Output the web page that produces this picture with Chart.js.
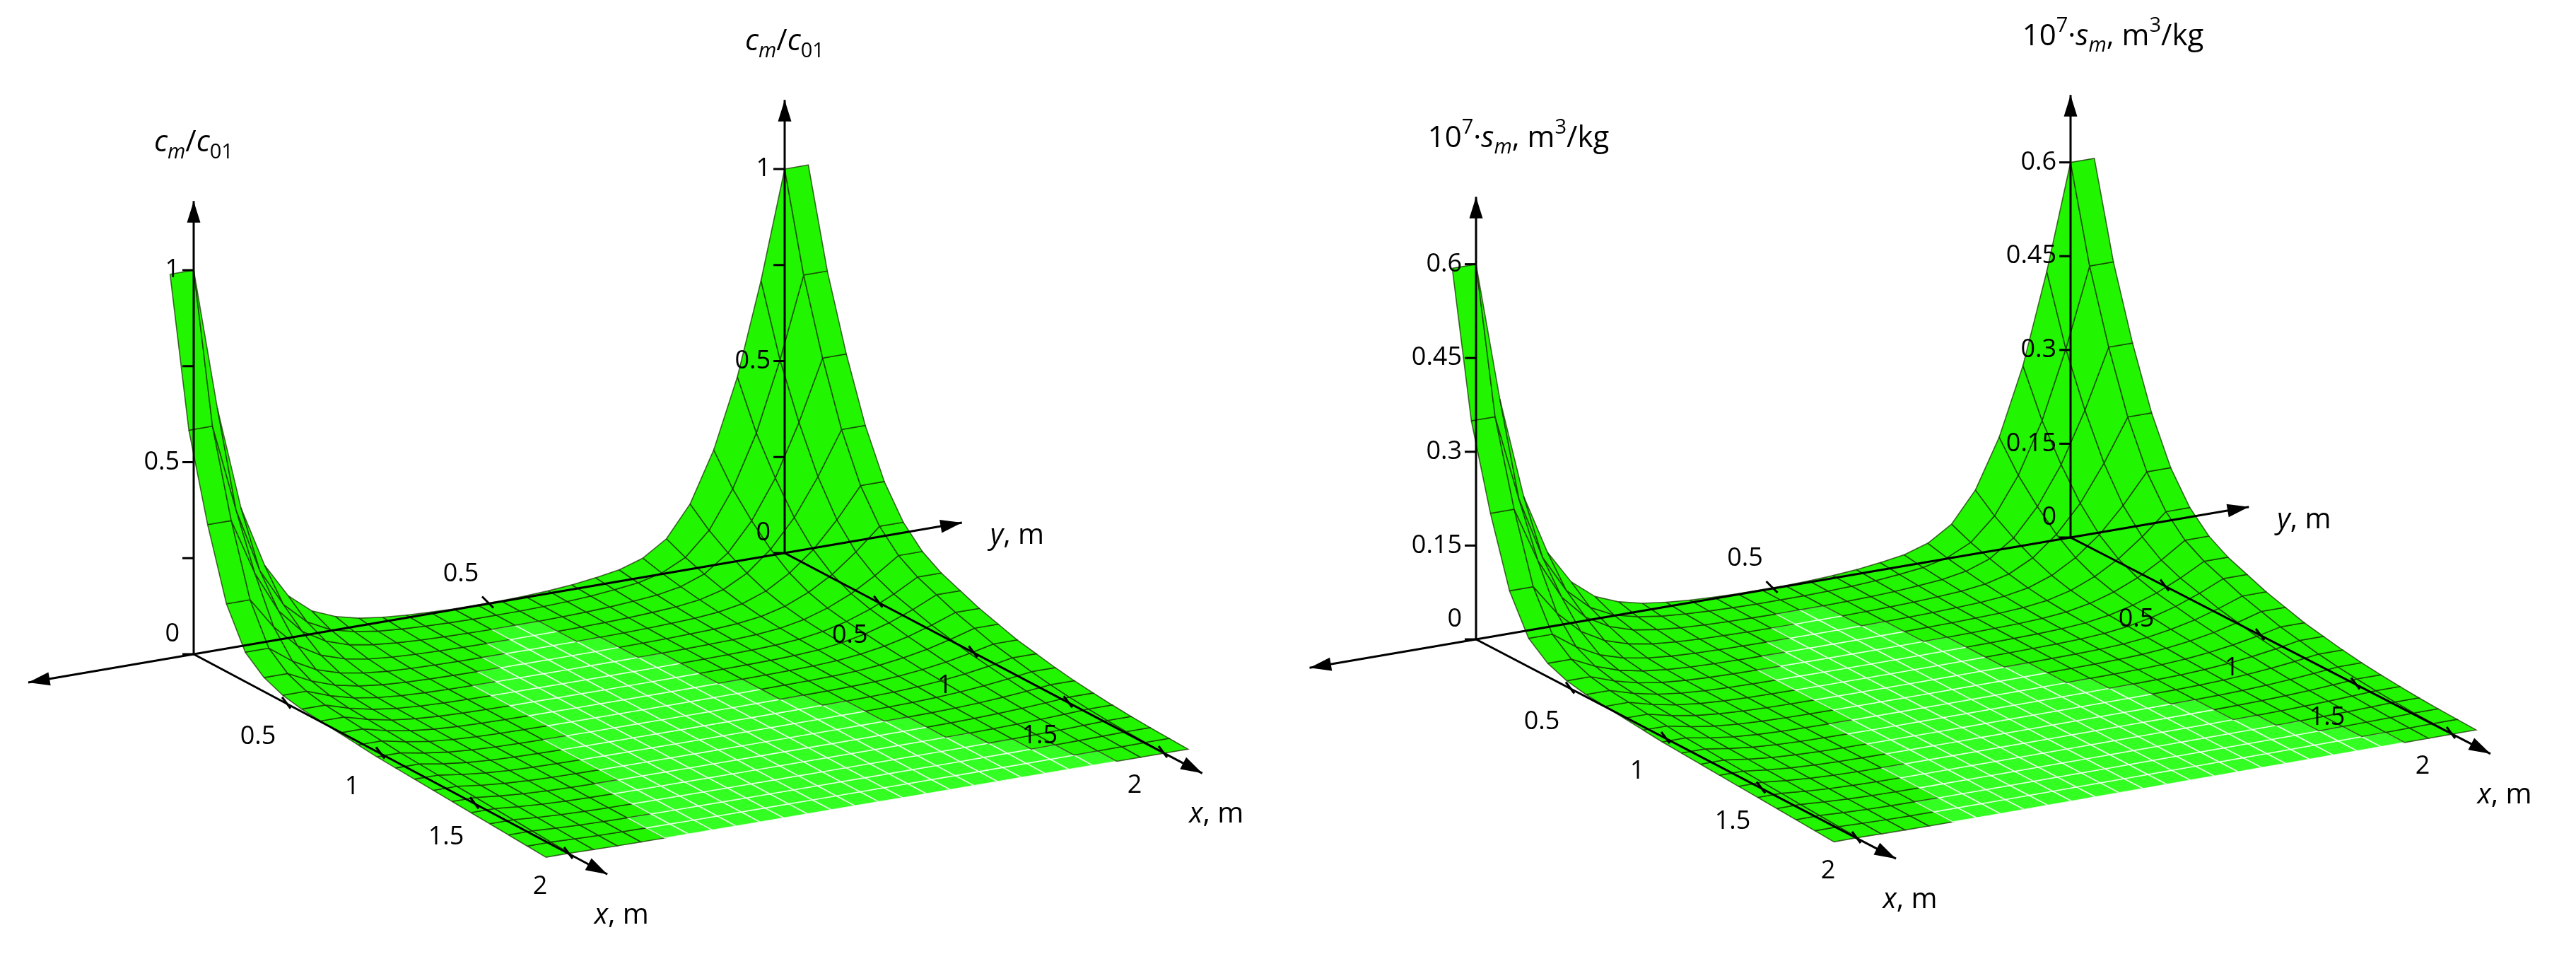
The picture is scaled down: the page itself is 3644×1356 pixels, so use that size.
<!DOCTYPE html>
<html>
<head>
<meta charset="utf-8">
<script src="https://cdn.jsdelivr.net/npm/chart.js@4.4.1/dist/chart.umd.min.js"></script>
<style>
  body { margin: 0; background: #fff; }
  canvas { display: block; }
</style>
</head>
<body>
<canvas id="myChart" width="3644" height="1356" style="width:3644px;height:1356px"></canvas>
<script>
  // grid positions, m
  var xs = [0, 0.1, 0.2, 0.3, 0.4, 0.5, 0.6, 0.7, 0.8, 0.9, 1.0, 1.1, 1.2, 1.3, 1.4, 1.5, 1.6, 1.7, 1.8, 1.9, 2.0];
  var ys = [-0.04, 0, 0.04, 0.08, 0.12, 0.16, 0.2, 0.24, 0.28, 0.32, 0.36, 0.4, 0.44, 0.48, 0.52, 0.56, 0.6, 0.64, 0.68, 0.72, 0.76, 0.8, 0.84, 0.88, 0.92, 0.96, 1.0, 1.04];
  // wall near y = 0 (normalized)
  var leftX = [1, 0.62, 0.4, 0.22, 0.12, 0.08, 0.06, 0.05, 0.045, 0.04, 0.035, 0.03, 0.027, 0.024, 0.021, 0.018, 0.015, 0.012, 0.009, 0.006, 0.003];
  var leftY = [1, 1, 0.63, 0.36, 0.2, 0.11, 0.06, 0.035, 0.02, 0.012, 0.007, 0.004, 0.002, 0.001, 0, 0, 0, 0, 0, 0, 0, 0, 0, 0, 0, 0, 0, 0];
  // wall near y = 1 (normalized)
  var rightX = [1, 0.75, 0.56, 0.4, 0.28, 0.2, 0.15, 0.12, 0.1, 0.08, 0.065, 0.05, 0.04, 0.03, 0.022, 0.016, 0.011, 0.007, 0.004, 0.002, 0];
  var rightY = [0, 0, 0, 0, 0, 0, 0, 0, 0, 0, 0, 0, 0, 0.001, 0.002, 0.004, 0.007, 0.012, 0.02, 0.03, 0.05, 0.09, 0.17, 0.3, 0.48, 0.72, 1, 1];
  // axis ticks
  var xTicks = [0.5, 1, 1.5, 2];
  var cTicks = [0, 0.25, 0.5, 0.75, 1];
  var cLabels = ["0", "", "0.5", "", "1"];
  var sTicks = [0, 0.15, 0.3, 0.45, 0.6];
  var sLabels = ["0", "0.15", "0.3", "0.45", "0.6"];
  var sPeak = 0.6;

  // floor corners of each panel: (x=0,y=0), (x=0,y=1), (x=2,y=0), (x=2,y=1)
  var panels = [
    { O: [274, 925], P: [1110, 782], C: [806, 1208], D: [1647, 1065], zPx: 543, peak: 1,
      ticks: cTicks, labels: cLabels, title: "c" },
    { O: [2088, 904], P: [2929, 760], C: [2628, 1186], D: [3469, 1038], zPx: 884, peak: sPeak,
      ticks: sTicks, labels: sLabels, title: "s" }
  ];

  var project = function(p, x, y, z) {
    var u = x / 2, v = y;
    var bx = p.O[0]*(1-u)*(1-v) + p.P[0]*(1-u)*v + p.C[0]*u*(1-v) + p.D[0]*u*v;
    var by = p.O[1]*(1-u)*(1-v) + p.P[1]*(1-u)*v + p.C[1]*u*(1-v) + p.D[1]*u*v;
    return { x: bx, y: by - z * p.zPx };
  };

  var surf = function(i, j) {
    return leftX[i]*leftY[j] + rightX[i]*rightY[j];
  };

  var datasets = [];
  panels.forEach(function(p) {
    for (var j = ys.length - 2; j >= 0; j--) {
      for (var i = 0; i < xs.length - 1; i++) {
        var corners = [[i, j], [i+1, j], [i+1, j+1], [i, j+1], [i, j]];
        var zmax = 0;
        var pts = corners.map(function(c) {
          var z = surf(c[0], c[1]) * p.peak;
          zmax = Math.max(zmax, z / p.peak);
          return project(p, xs[c[0]], ys[c[1]], z);
        });
        var dark = zmax > 0.0012;
        datasets.push({
          data: pts,
          showLine: true,
          fill: 'shape',
          pointRadius: 0,
          borderWidth: 1.6,
          backgroundColor: dark ? '#22f500' : '#33ff22',
          borderColor: dark ? 'rgba(20,40,0,0.7)' : 'rgba(255,255,255,0.75)'
        });
      }
    }
  });

  var drawRich = function(ctx, segs, x, y, size, align) {
    var w = 0;
    segs.forEach(function(s) {
      ctx.font = (s.italic ? 'italic ' : '') + Math.round(size * (s.sub || s.sup ? 0.7 : 1)) + 'px "Open Sans"';
      s.w = ctx.measureText(s.t).width;
      w += s.w;
    });
    var cx = align === 'center' ? x - w/2 : x;
    ctx.textAlign = 'left';
    ctx.textBaseline = 'alphabetic';
    segs.forEach(function(s) {
      ctx.font = (s.italic ? 'italic ' : '') + Math.round(size * (s.sub || s.sup ? 0.7 : 1)) + 'px "Open Sans"';
      var dy = s.sub ? size * 0.22 : (s.sup ? -size * 0.45 : 0);
      ctx.fillText(s.t, cx, y + dy);
      cx += s.w;
    });
  };

  var arrow = function(ctx, a, b) {
    ctx.beginPath();
    ctx.moveTo(a.x, a.y);
    ctx.lineTo(b.x, b.y);
    ctx.stroke();
    var ang = Math.atan2(b.y - a.y, b.x - a.x);
    ctx.beginPath();
    ctx.moveTo(b.x, b.y);
    ctx.lineTo(b.x - 32*Math.cos(ang - 0.3), b.y - 32*Math.sin(ang - 0.3));
    ctx.lineTo(b.x - 32*Math.cos(ang + 0.3), b.y - 32*Math.sin(ang + 0.3));
    ctx.closePath();
    ctx.fill();
  };

  var axesPlugin = {
    id: 'axes3d',
    afterDatasetsDraw: function(chart) {
      var ctx = chart.ctx;
      var sx = chart.scales.x, sy = chart.scales.y;
      var px = function(pt) { return { x: sx.getPixelForValue(pt.x), y: sy.getPixelForValue(pt.y) }; };
      ctx.save();
      ctx.strokeStyle = '#000';
      ctx.fillStyle = '#000';
      ctx.lineWidth = 3;
      panels.forEach(function(p) {
        var pr = function(x, y, z) { return px(project(p, x, y, z)); };
        var top = p.peak * 1.18;
        // vertical axes
        [0, 1].forEach(function(yv) {
          arrow(ctx, pr(0, yv, 0), pr(0, yv, top));
          p.ticks.forEach(function(t, k) {
            var a = pr(0, yv, t);
            ctx.beginPath(); ctx.moveTo(a.x - 16, a.y); ctx.lineTo(a.x, a.y); ctx.stroke();
            if (p.labels[k]) {
              ctx.font = '36px "Open Sans"';
              ctx.textAlign = 'right';
              ctx.textBaseline = 'middle';
              ctx.fillText(p.labels[k], a.x - 20, a.y - (t === 0 ? 28 : 0));
            }
          });
        });
        // y axis
        arrow(ctx, pr(0, 0, 0), pr(0, -0.28, 0));
        arrow(ctx, pr(0, 0, 0), pr(0, 1.3, 0));
        var yt = pr(0, 0.5, 0);
        ctx.beginPath(); ctx.moveTo(yt.x - 10, yt.y - 10); ctx.lineTo(yt.x + 6, yt.y + 6); ctx.stroke();
        ctx.font = '36px "Open Sans"';
        ctx.textAlign = 'center'; ctx.textBaseline = 'middle';
        ctx.fillText('0.5', yt.x - 40, yt.y - 42);
        var ye = pr(0, 1.3, 0);
        drawRich(ctx, [{ t: 'y', italic: true }, { t: ', m' }], ye.x + 40, ye.y + 30, 40, 'left');
        // x axes
        [0, 1].forEach(function(yv) {
          arrow(ctx, pr(0, yv, 0), pr(2.2, yv, 0));
          xTicks.forEach(function(t) {
            var a = pr(t, yv, 0);
            ctx.beginPath(); ctx.moveTo(a.x - 8, a.y - 10); ctx.lineTo(a.x + 4, a.y + 6); ctx.stroke();
            ctx.font = '36px "Open Sans"';
            ctx.textAlign = 'center'; ctx.textBaseline = 'middle';
            ctx.fillText(String(t), a.x - 42, a.y + 46);
          });
          var xe = pr(2.2, yv, 0);
          drawRich(ctx, [{ t: 'x', italic: true }, { t: ', m' }], xe.x + 20, xe.y + 70, 40, 'center');
        });
        // vertical axis titles
        [0, 1].forEach(function(yv) {
          var a = pr(0, yv, top);
          var segs = p.title === 'c'
            ? [{ t: 'c', italic: true }, { t: 'm', italic: true, sub: true }, { t: '/' }, { t: 'c', italic: true }, { t: '01', sub: true }]
            : [{ t: '10' }, { t: '7', sup: true }, { t: '·' }, { t: 's', italic: true }, { t: 'm', italic: true, sub: true }, { t: ', m' }, { t: '3', sup: true }, { t: '/kg' }];
          drawRich(ctx, segs, a.x + (p.title === 'c' ? 0 : 60), a.y - 70, 42, 'center');
        });
      });
      ctx.restore();
    }
  };

  var ctx = document.getElementById('myChart').getContext('2d');
  new Chart(ctx, {
    type: 'scatter',
    data: { datasets: datasets },
    options: {
      responsive: false,
      animation: false,
      devicePixelRatio: 1,
      layout: { padding: 0 },
      plugins: { legend: { display: false }, tooltip: { enabled: false } },
      scales: {
        x: { type: 'linear', min: 0, max: 3644, display: false },
        y: { type: 'linear', min: 0, max: 1356, reverse: true, display: false }
      }
    },
    plugins: [axesPlugin]
  });
</script>
</body>
</html>
